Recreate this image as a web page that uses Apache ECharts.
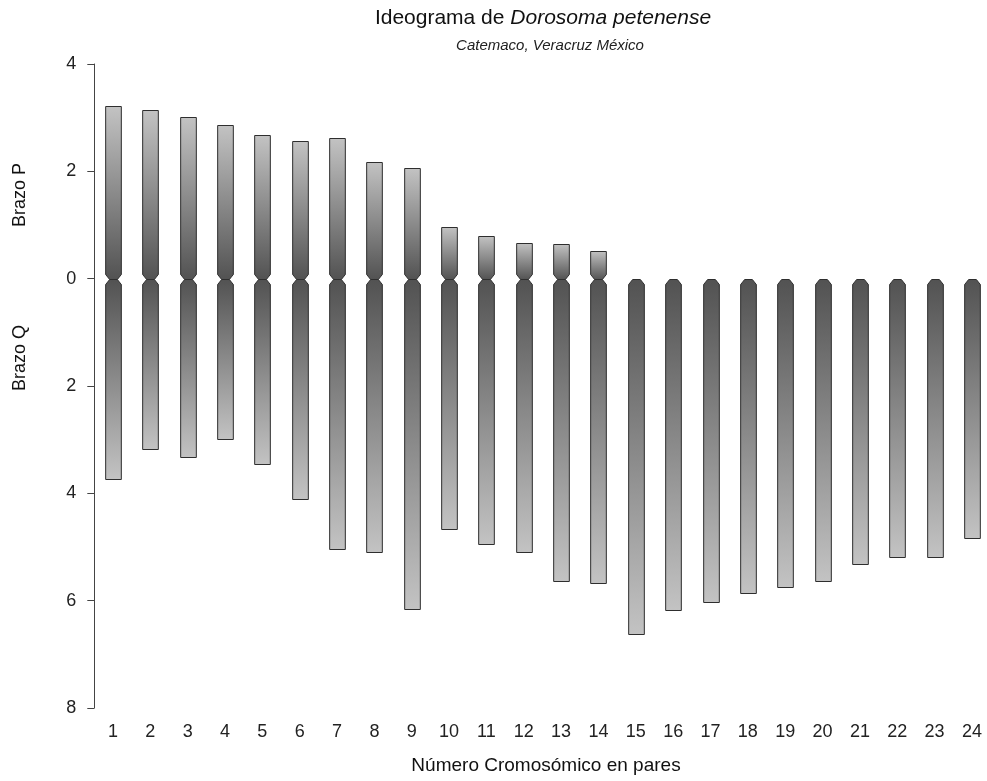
<!DOCTYPE html>
<html>
<head>
<meta charset="utf-8">
<script src="https://cdn.jsdelivr.net/npm/echarts@6/dist/echarts.min.js"></script>
<style>
  html, body { margin: 0; padding: 0; background: #ffffff; }
  #chart { width: 987px; height: 781px; }
</style>
</head>
<body>
<div id="chart"></div>
<script>
// Chromosome pairs (x axis categories)
const chromosomes = ['1','2','3','4','5','6','7','8','9','10','11','12',
                     '13','14','15','16','17','18','19','20','21','22','23','24'];
// Short arm (Brazo P) length per pair, drawn upward from the centromere
const armP = [3.21, 3.15, 3.01, 2.86, 2.67, 2.57, 2.63, 2.18, 2.07, 0.97, 0.79, 0.66,
              0.64, 0.51, 0, 0, 0, 0, 0, 0, 0, 0, 0, 0];
// Long arm (Brazo Q) length per pair, drawn downward from the centromere
const armQ = [3.73, 3.18, 3.33, 2.99, 3.45, 4.11, 5.03, 5.10, 6.16, 4.67, 4.94, 5.10,
              5.64, 5.67, 6.62, 6.18, 6.02, 5.85, 5.75, 5.64, 5.31, 5.18, 5.18, 4.83];
// Y axis range: P arm positive, Q arm negative; labels show magnitude
const yMin = -8, yMax = 4, yStep = 2;

const FONT = "'Liberation Sans', Arial, sans-serif";
const LIGHT = '#c3c3c3';
const DARK = '#525252';

const data = chromosomes.map((c, i) => [i, armP[i], armQ[i]]);

function renderItem(params, api) {
  const idx = api.value(0);
  const p = api.value(1);
  const q = api.value(2);
  const c0 = api.coord([idx, 0]);
  const cx = Math.round(c0[0]) + 0.5;
  const y0 = Math.round(c0[1]) + 0.5;
  const bw = api.size([1, 0])[0] * 0.42;
  const hw = bw / 2;
  const cut = 4;   // horizontal inset of the centromere constriction
  const ch = 5;    // vertical extent of the constriction
  const children = [];
  if (p > 0) {
    const yt = Math.round(api.coord([idx, p])[1]) + 0.5;
    children.push({
      type: 'polygon',
      shape: { points: [
        [cx - hw, yt], [cx + hw, yt], [cx + hw, y0 - ch],
        [cx + hw - cut, y0], [cx - hw + cut, y0], [cx - hw, y0 - ch]
      ] },
      style: {
        fill: new echarts.graphic.LinearGradient(0, 0, 0, 1, [
          { offset: 0, color: LIGHT }, { offset: 1, color: DARK }
        ]),
        stroke: '#2e2e2e', lineWidth: 1
      }
    });
  }
  const yb = Math.round(api.coord([idx, -q])[1]) + 0.5;
  children.push({
    type: 'polygon',
    shape: { points: [
      [cx - hw + cut, y0], [cx + hw - cut, y0], [cx + hw, y0 + ch],
      [cx + hw, yb], [cx - hw, yb], [cx - hw, y0 + ch]
    ] },
    style: {
      fill: new echarts.graphic.LinearGradient(0, 0, 0, 1, [
        { offset: 0, color: DARK }, { offset: 1, color: LIGHT }
      ]),
      stroke: '#2e2e2e', lineWidth: 1
    }
  });
  return { type: 'group', children };
}

const chart = echarts.init(document.getElementById('chart'), null, { renderer: 'canvas' });
chart.setOption({
  animation: false,
  backgroundColor: '#ffffff',
  textStyle: { fontFamily: FONT },
  grid: { left: 94.3, right: -3.6, top: 64, bottom: 73, containLabel: false, outerBoundsMode: 'none' },
  xAxis: {
    type: 'category',
    data: chromosomes,
    boundaryGap: true,
    axisLine: { show: false },
    axisTick: { show: false },
    splitLine: { show: false },
    axisLabel: { fontSize: 18, color: '#222', margin: 15, fontFamily: FONT, interval: 0 }
  },
  yAxis: {
    type: 'value',
    min: yMin, max: yMax, interval: yStep,
    axisLine: { show: true, lineStyle: { color: '#444', width: 1 } },
    axisTick: { show: true, length: 7, lineStyle: { color: '#444', width: 1 } },
    splitLine: { show: false },
    axisLabel: {
      fontSize: 18, color: '#222', margin: 18, fontFamily: FONT,
      formatter: v => String(Math.abs(v))
    }
  },
  series: [{
    type: 'custom',
    renderItem: renderItem,
    data: data,
    clip: false,
    encode: { x: 0, y: [1, 2] }
  }],
  graphic: [
    {
      type: 'text', x: 543, y: 18,
      style: {
        text: 'Ideograma de {i|Dorosoma petenense}',
        rich: { i: { fontStyle: 'italic', fontSize: 21, fontFamily: FONT, fill: '#111' } },
        fontSize: 21, fontFamily: FONT, fill: '#111',
        align: 'center', verticalAlign: 'middle'
      }
    },
    {
      type: 'text', x: 550, y: 46,
      style: {
        text: 'Catemaco, Veracruz México',
        fontSize: 15, fontStyle: 'italic', fontFamily: FONT, fill: '#222',
        align: 'center', verticalAlign: 'middle'
      }
    },
    {
      type: 'text', x: 546, y: 766,
      style: {
        text: 'Número Cromosómico en pares',
        fontSize: 19, fontFamily: FONT, fill: '#111',
        align: 'center', verticalAlign: 'middle'
      }
    },
    {
      type: 'text', x: 20, y: 195, rotation: Math.PI / 2,
      style: {
        text: 'Brazo P', fontSize: 18, fontFamily: FONT, fill: '#111',
        align: 'center', verticalAlign: 'middle'
      }
    },
    {
      type: 'text', x: 20, y: 358, rotation: Math.PI / 2,
      style: {
        text: 'Brazo Q', fontSize: 18, fontFamily: FONT, fill: '#111',
        align: 'center', verticalAlign: 'middle'
      }
    }
  ]
});
</script>
</body>
</html>
